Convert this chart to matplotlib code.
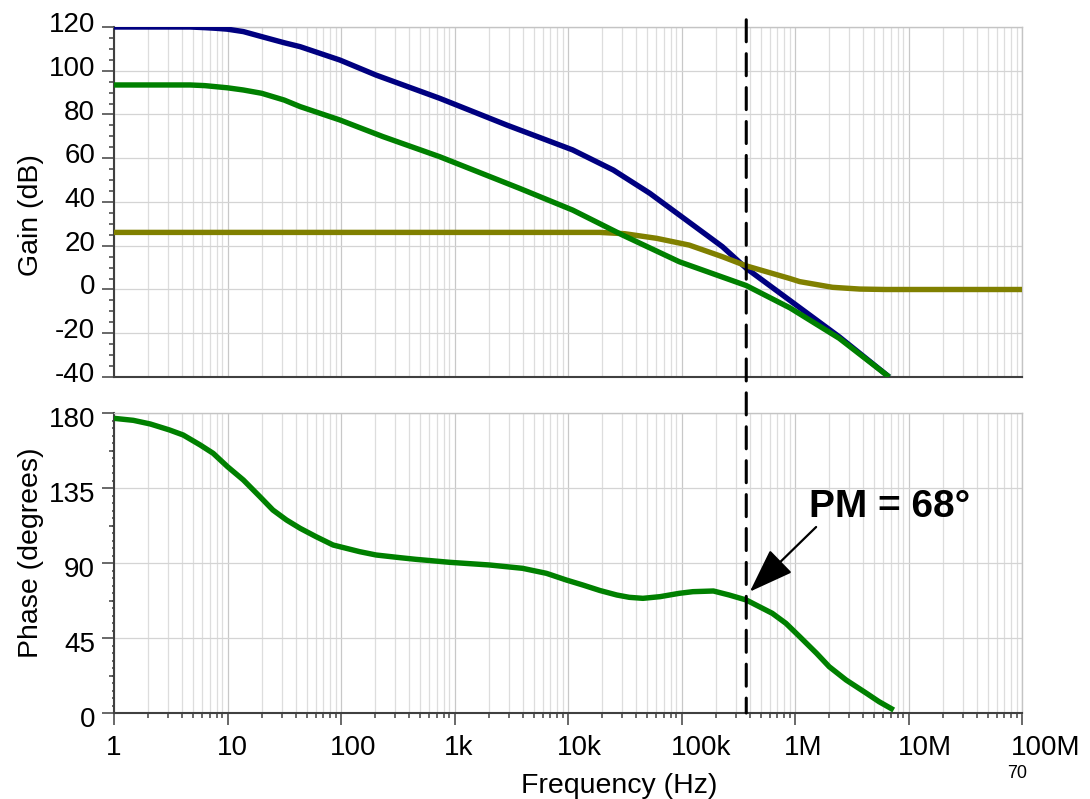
import matplotlib
matplotlib.use('Agg')
import matplotlib.pyplot as plt
from matplotlib.ticker import FixedLocator, MultipleLocator, NullFormatter
from matplotlib.patches import ConnectionPatch
from matplotlib.transforms import ScaledTranslation

plt.rcParams['font.family'] = ['Liberation Sans', 'DejaVu Sans']
plt.rcParams['axes.unicode_minus'] = False

# ---------------- data ----------------
blue_freq = [1, 4.68, 6.31, 7.94, 10, 13.8, 20.0, 31.6, 43.7, 97.7, 204, 741,
             2880, 1.10e4, 2.51e4, 5.25e4, 9.55e4, 2.29e5, 3.72e5, 8.91e5,
             2.45e6, 6.76e6]
blue_gain = [120, 120, 119.7, 119.4, 119.0, 117.9, 115.6, 112.8, 111, 104.9, 98,
             87.4, 75.2, 63.8, 54.6, 44, 34.1, 19.6, 9.7, -4.8, -21.6, -40]

green_freq = [1, 4.68, 6.31, 7.94, 10, 13.8, 20.0, 31.6, 43.7, 97.7, 234, 741,
              3720, 1.10e4, 3.02e4, 9.55e4, 3.72e5, 9.1e5, 2.45e6, 6.76e6]
green_gain = [93.5, 93.5, 93.2, 92.7, 92.2, 91.2, 89.7, 86.6, 83.6, 77.5, 69.9,
              60.7, 46.3, 36.3, 24.9, 12.7, 1.8, -8.5, -22.3, -40]

olive_freq = [1, 1.9e4, 3.16e4, 6.03e4, 1.17e5, 2.29e5, 3.72e5, 8.91e5,
              1.10e6, 2.14e6, 3.72e6, 6.3e6, 1e8]
olive_gain = [26.1, 26.1, 25.5, 23.4, 20.3, 15.0, 10.8, 5.1, 3.6, 1.0, 0.2, 0, 0]

phase_freq = [1, 1.48, 2.09, 3.09, 4.07, 5.75, 7.48, 10, 13.8, 19.3, 25.1,
              33.1, 43.7, 60.3, 85.1, 146, 204, 331, 457, 912, 2040, 3980,
              6460, 9660, 1.35e4, 1.91e4, 2.69e4, 3.47e4, 4.57e4, 6.46e4,
              9.55e4, 1.26e5, 1.91e5, 2.63e5, 3.72e5, 6.31e5, 8.32e5, 1.10e6,
              1.55e6, 2.0e6, 2.82e6, 4.27e6, 5.5e6, 7.41e6]
phase_deg = [176.8, 175.6, 173.4, 169.8, 166.8, 160.8, 155.8, 147.8, 139.8,
             129.8, 121.8, 115.8, 110.8, 105.8, 100.8, 96.8, 94.8, 93.2, 92.2,
             90.4, 88.8, 86.8, 83.8, 79.8, 76.8, 73.5, 70.8, 69.4, 68.8, 69.8,
             71.8, 72.8, 73.2, 70.8, 67.8, 59.8, 53.8, 45.8, 35.8, 27.8, 19.8,
             11.8, 6.8, 1.8]

crossover_freq = 3.72e5
pm_tip_phase = 72.8
pm_text = 'PM = 68°'

freq_ticks = [1, 10, 100, 1e3, 1e4, 1e5, 1e6, 1e7, 1e8]
freq_labels = ['1', '10', '100', '1k', '10k', '100k', '1M', '10M', '100M']
gain_ticks = [-40, -20, 0, 20, 40, 60, 80, 100, 120]
phase_ticks = [0, 45, 90, 135, 180]

# ---------------- figure ----------------
W, H = 1090, 799
fig = plt.figure(figsize=(W / 100, H / 100), dpi=100)

def px_rect(l, t, r, b):
    return [l / W, 1 - b / H, (r - l) / W, (b - t) / H]

ax1 = fig.add_axes(px_rect(114, 27, 1022, 377))
ax2 = fig.add_axes(px_rect(114, 413, 1022, 713))

BLUE = '#000080'
GREEN = '#008000'
OLIVE = '#808000'
SPINE = '#404040'
LW = 3.9

for ax in (ax1, ax2):
    ax.set_xscale('log')
    ax.set_xlim(1, 1e8)
    ax.xaxis.set_major_locator(FixedLocator(freq_ticks))
    ax.xaxis.set_minor_locator(FixedLocator(
        [m * d for d in freq_ticks[:-1] for m in range(2, 10)]))
    ax.xaxis.set_minor_formatter(NullFormatter())
    ax.grid(True, which='major', axis='x', color='#c8c8c8', lw=0.9)
    ax.grid(True, which='minor', axis='x', color='#dddddd', lw=0.9)
    ax.grid(True, which='major', axis='y', color='#d4d4d4', lw=0.9)
    ax.set_axisbelow(True)
    for s in ('top', 'right'):
        ax.spines[s].set_color('#c4c4c4')
        ax.spines[s].set_linewidth(1.0)
    for s in ('left', 'bottom'):
        ax.spines[s].set_color(SPINE)
        ax.spines[s].set_linewidth(1.5)
    ax.tick_params(which='both', direction='out', color=SPINE, width=1.1,
                   labelsize=20, top=False, right=False)
    ax.tick_params(which='major', length=8.6)
    ax.tick_params(which='minor', length=3.6)
    ax.tick_params(axis='y', pad=5)
    ax.tick_params(axis='x', pad=7)

# ---- gain plot ----
ax1.plot(blue_freq, blue_gain, color=BLUE, lw=LW, solid_capstyle='butt',
         solid_joinstyle='round', zorder=3)
ax1.plot(olive_freq, olive_gain, color=OLIVE, lw=LW, solid_capstyle='butt',
         solid_joinstyle='round', zorder=3)
ax1.plot(green_freq, green_gain, color=GREEN, lw=LW, solid_capstyle='butt',
         solid_joinstyle='round', zorder=3)
ax1.set_ylim(-40, 120)
ax1.set_yticks(gain_ticks)
ax1.yaxis.set_minor_locator(MultipleLocator(5))
ax1.tick_params(axis='x', which='both', bottom=False, labelbottom=False)
ax1.set_ylabel('Gain (dB)', fontsize=20.5)
ax1.yaxis.set_label_coords(-0.077, 0.463)

# ---- phase plot ----
ax2.plot(phase_freq, phase_deg, color=GREEN, lw=LW, solid_capstyle='butt',
         solid_joinstyle='round', zorder=3)
ax2.set_ylim(0, 180)
ax2.set_yticks(phase_ticks)
ax2.yaxis.set_minor_locator(MultipleLocator(4.5))
ax2.tick_params(axis='y', which='minor', length=1.5)
sec = ax2.secondary_yaxis('left')
sec.set_yticks([22.5, 67.5, 112.5, 157.5])
sec.tick_params(length=3.6, width=1.1, color=SPINE, labelleft=False)
sec.yaxis.set_minor_locator(FixedLocator([]))
sec.spines['left'].set_visible(False)
ax2.set_xticks(freq_ticks)
ax2.set_xticklabels(freq_labels)
ax2.set_ylabel('Phase (degrees)', fontsize=20.5)
ax2.yaxis.set_label_coords(-0.077, 0.535)
ax2.set_xlabel('Frequency (Hz)', fontsize=20.5)
ax2.xaxis.label.set_va('baseline')
ax2.xaxis.set_label_coords(0.556, -0.267)

# tick label offsets to mimic the reference placement
for i, lab in enumerate(ax2.get_xticklabels()):
    if i == 0:
        continue
    lab.set_ha('left')
    lab.set_transform(lab.get_transform() +
                      ScaledTranslation(-0.11, 0, fig.dpi_scale_trans))
for lab in ax1.get_yticklabels():
    lab.set_transform(lab.get_transform() +
                      ScaledTranslation(0, 0.05, fig.dpi_scale_trans))
for lab in ax2.get_yticklabels():
    lab.set_transform(lab.get_transform() +
                      ScaledTranslation(0, -0.04, fig.dpi_scale_trans))

# ---- crossover dashed line spanning both plots ----
con = ConnectionPatch(xyA=(crossover_freq, 123.3), coordsA=ax1.transData,
                      xyB=(crossover_freq, 0), coordsB=ax2.transData,
                      color='black', lw=2.2, linestyle=(0, (7.2, 3.9)),
                      zorder=10)
fig.add_artist(con)

# ---- phase margin annotation ----
ax2.annotate('', xy=(4.0e5, pm_tip_phase), xytext=(1.535e6, 111.6),
             arrowprops=dict(arrowstyle='-|>,head_length=28,head_width=10',
                             mutation_scale=1, color='black', lw=1.6,
                             shrinkA=0, shrinkB=0),
             zorder=11)
ax2.text(1.34e6, 117.6, pm_text, fontsize=28, fontweight='bold',
         ha='left', va='baseline', zorder=11)

fig.text(1007 / W, 1 - 778 / H, '70', fontsize=13, ha='left', va='baseline')

fig.savefig('out.png', dpi=100)
